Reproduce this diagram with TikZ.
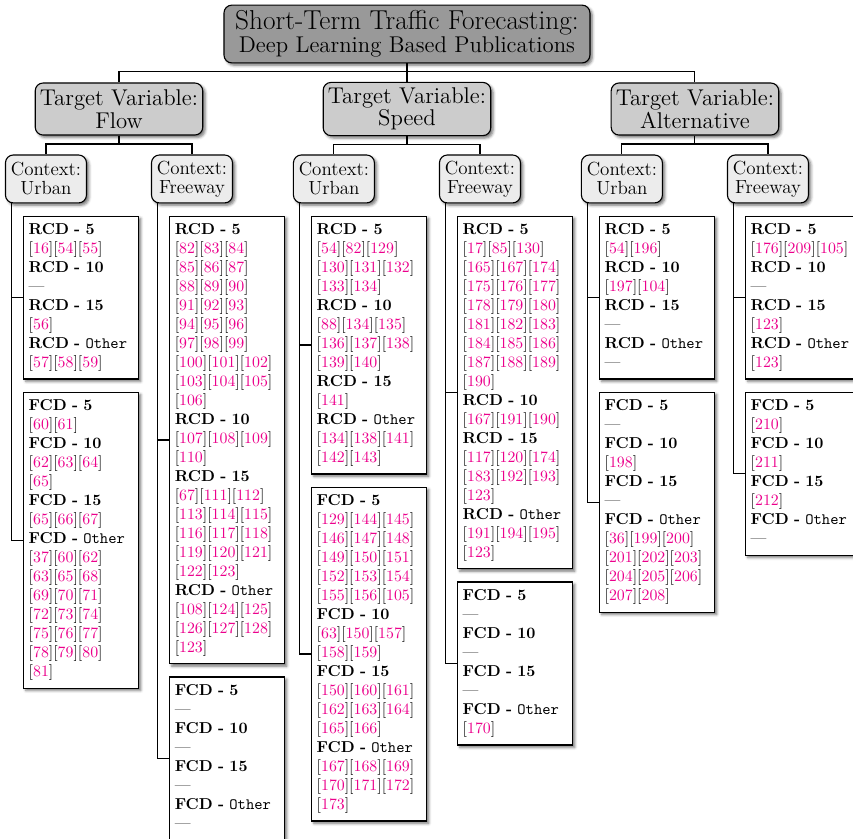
\documentclass[tikz,border=0pt]{standalone}
\usepackage{xcolor}
\usetikzlibrary{positioning,shadows.blur}
\definecolor{citepink}{RGB}{236,0,140}
\newcommand{\grp}[2]{\textbf{#1 - #2}}
\newcommand{\grpo}[1]{\textbf{#1 -} \texttt{Other}}
\newcommand{\rcs}[1]{\foreach \pub in {#1}{[\textcolor{citepink}{\pub}]}}
\newcommand{\nopub}{\textemdash}
\begin{document}
\begin{tikzpicture}[
  level 1/.style={level distance=47.4pt, sibling distance=182pt},
  level 2/.style={level distance=44.2pt, sibling distance=92.3pt},
  edge from parent/.style={draw, line width=0.7pt},
  edge from parent path={(\tikzparentnode.south) -- ++(0,-5.3pt) -| (\tikzchildnode.north)},
  shade box/.style={draw, line width=0.7pt,
    blur shadow={shadow xshift=1.5pt, shadow yshift=-1.5pt, shadow opacity=55}},
  rootbox/.style={shade box, rounded corners=5pt, fill=gray!80, align=center, inner xsep=3pt,
    minimum width=231.3pt, minimum height=35.4pt, font=\fontsize{14.4}{14.8}\selectfont},
  varbox/.style={shade box, rounded corners=5pt, fill=gray!40, align=center, inner xsep=3pt,
    minimum width=103.6pt, minimum height=32.9pt, font=\fontsize{14.4}{14.2}\selectfont},
  ctxbox/.style={shade box, rounded corners=5pt, fill=gray!15, align=center, inner xsep=2.5pt,
    minimum width=51.2pt, minimum height=30.3pt, font=\fontsize{12}{12}\selectfont},
  listbox/.style={shade box, fill=white, align=left, text width=66pt, inner xsep=3.3pt,
    inner ysep=3.5pt, execute at begin node=\strut, execute at end node=\strut}
]
\useasboundingbox (0,0) rectangle (539.1pt,-530.2pt);
\node[rootbox] (root) at (257.2pt,-21.5pt)
{{\LARGE Short-Term Traffic Forecasting:}\\Deep Learning Based Publications}
  child { node[varbox] (flow) {Target Variable:\\Flow}
    child { node[ctxbox] (flowU) {Context:\\Urban} }
    child { node[ctxbox] (flowF) {Context:\\Freeway} }
  }
  child { node[varbox] (spd) {Target Variable:\\Speed}
    child { node[ctxbox] (spdU) {Context:\\Urban} }
    child { node[ctxbox] (spdF) {Context:\\Freeway} }
  }
  child { node[varbox] (alt) {Target Variable:\\Alternative}
    child { node[ctxbox] (altU) {Context:\\Urban} }
    child { node[ctxbox] (altF) {Context:\\Freeway} }
  };

\node[listbox, below right=7.6pt and 11.4pt of flowU.south west] (flowU-r)
{\grp{RCD}{5}\\ \rcs{16,54,55}\\ \grp{RCD}{10}\\ \nopub\\ \grp{RCD}{15}\\ \rcs{56}\\
 \grpo{RCD}\\ \rcs{57,58,59}};
\node[listbox, below=7.6pt of flowU-r] (flowU-f)
{\grp{FCD}{5}\\ \rcs{60,61}\\ \grp{FCD}{10}\\ \rcs{62,63,64}\\ \rcs{65}\\ \grp{FCD}{15}\\
 \rcs{65,66,67}\\ \grpo{FCD}\\ \rcs{37,60,62}\\ \rcs{63,65,68}\\ \rcs{69,70,71}\\
 \rcs{72,73,74}\\ \rcs{75,76,77}\\ \rcs{78,79,80}\\ \rcs{81}};

\node[listbox, below right=7.6pt and 11.4pt of flowF.south west] (flowF-r)
{\grp{RCD}{5}\\ \rcs{82,83,84}\\ \rcs{85,86,87}\\ \rcs{88,89,90}\\ \rcs{91,92,93}\\
 \rcs{94,95,96}\\ \rcs{97,98,99}\\ \rcs{100,101,102}\\ \rcs{103,104,105}\\ \rcs{106}\\
 \grp{RCD}{10}\\ \rcs{107,108,109}\\ \rcs{110}\\ \grp{RCD}{15}\\ \rcs{67,111,112}\\
 \rcs{113,114,115}\\ \rcs{116,117,118}\\ \rcs{119,120,121}\\ \rcs{122,123}\\
 \grpo{RCD}\\ \rcs{108,124,125}\\ \rcs{126,127,128}\\ \rcs{123}};
\node[listbox, below=7.6pt of flowF-r] (flowF-f)
{\grp{FCD}{5}\\ \nopub\\ \grp{FCD}{10}\\ \nopub\\ \grp{FCD}{15}\\ \nopub\\
 \grpo{FCD}\\ \nopub};

\node[listbox, below right=7.6pt and 11.4pt of spdU.south west] (spdU-r)
{\grp{RCD}{5}\\ \rcs{54,82,129}\\ \rcs{130,131,132}\\ \rcs{133,134}\\ \grp{RCD}{10}\\
 \rcs{88,134,135}\\ \rcs{136,137,138}\\ \rcs{139,140}\\ \grp{RCD}{15}\\ \rcs{141}\\
 \grpo{RCD}\\ \rcs{134,138,141}\\ \rcs{142,143}};
\node[listbox, below=7.6pt of spdU-r] (spdU-f)
{\grp{FCD}{5}\\ \rcs{129,144,145}\\ \rcs{146,147,148}\\ \rcs{149,150,151}\\
 \rcs{152,153,154}\\ \rcs{155,156,105}\\ \grp{FCD}{10}\\ \rcs{63,150,157}\\ \rcs{158,159}\\
 \grp{FCD}{15}\\ \rcs{150,160,161}\\ \rcs{162,163,164}\\ \rcs{165,166}\\ \grpo{FCD}\\
 \rcs{167,168,169}\\ \rcs{170,171,172}\\ \rcs{173}};

\node[listbox, below right=7.6pt and 11.4pt of spdF.south west] (spdF-r)
{\grp{RCD}{5}\\ \rcs{17,85,130}\\ \rcs{165,167,174}\\ \rcs{175,176,177}\\
 \rcs{178,179,180}\\ \rcs{181,182,183}\\ \rcs{184,185,186}\\ \rcs{187,188,189}\\
 \rcs{190}\\ \grp{RCD}{10}\\ \rcs{167,191,190}\\ \grp{RCD}{15}\\ \rcs{117,120,174}\\
 \rcs{183,192,193}\\ \rcs{123}\\ \grpo{RCD}\\ \rcs{191,194,195}\\ \rcs{123}};
\node[listbox, below=7.6pt of spdF-r] (spdF-f)
{\grp{FCD}{5}\\ \nopub\\ \grp{FCD}{10}\\ \nopub\\ \grp{FCD}{15}\\ \nopub\\
 \grpo{FCD}\\ \rcs{170}};

\node[listbox, below right=7.6pt and 11.4pt of altU.south west] (altU-r)
{\grp{RCD}{5}\\ \rcs{54,196}\\ \grp{RCD}{10}\\ \rcs{197,104}\\ \grp{RCD}{15}\\ \nopub\\
 \grpo{RCD}\\ \nopub};
\node[listbox, below=7.6pt of altU-r] (altU-f)
{\grp{FCD}{5}\\ \nopub\\ \grp{FCD}{10}\\ \rcs{198}\\ \grp{FCD}{15}\\ \nopub\\
 \grpo{FCD}\\ \rcs{36,199,200}\\ \rcs{201,202,203}\\ \rcs{204,205,206}\\ \rcs{207,208}};

\node[listbox, below right=7.6pt and 11.4pt of altF.south west] (altF-r)
{\grp{RCD}{5}\\ \rcs{176,209,105}\\ \grp{RCD}{10}\\ \nopub\\ \grp{RCD}{15}\\ \rcs{123}\\
 \grpo{RCD}\\ \rcs{123}};
\node[listbox, below=7.6pt of altF-r] (altF-f)
{\grp{FCD}{5}\\ \rcs{210}\\ \grp{FCD}{10}\\ \rcs{211}\\ \grp{FCD}{15}\\ \rcs{212}\\
 \grpo{FCD}\\ \nopub};

\foreach \ctx in {flowU,flowF,spdU,spdF,altU,altF}
  \draw[line width=0.7pt] ([xshift=4.4pt]\ctx.south west) |- (\ctx-r.west)
    ([xshift=4.4pt]\ctx.south west) |- (\ctx-f.west);
\end{tikzpicture}
\end{document}
